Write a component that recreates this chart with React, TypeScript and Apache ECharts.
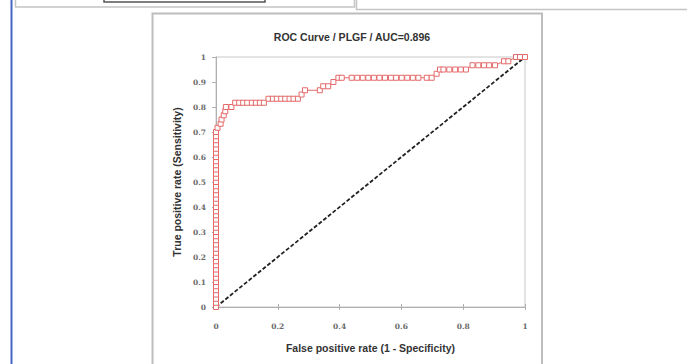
import React, { useEffect, useRef } from "react";
import * as echarts from "echarts";

const chartTitle = "ROC Curve / PLGF / AUC=0.896";
const xAxisTitle = "False positive rate (1 - Specificity)";
const yAxisTitle = "True positive rate (Sensitivity)";
const xTicks = [0, 0.2, 0.4, 0.6, 0.8, 1];
const yTicks = [0, 0.1, 0.2, 0.3, 0.4, 0.5, 0.6, 0.7, 0.8, 0.9, 1];

// ROC points: false positive rate (x) and true positive rate (y)
const fpr = [
  0, 0, 0, 0, 0, 0, 0, 0, 0, 0, 0, 0, 0, 0, 0, 0, 0, 0, 0, 0, 0, 0, 0, 0, 0, 0, 0, 0, 0, 0, 0, 0, 0, 0, 0, 0, 0, 0, 0, 0, 0, 0, 0,
  0.005, 0.015, 0.018, 0.025, 0.03, 0.032, 0.05,
  0.062, 0.075, 0.088, 0.101, 0.116, 0.129, 0.142, 0.155,
  0.17, 0.184, 0.197, 0.211, 0.224, 0.238, 0.251, 0.265,
  0.277, 0.288, 0.336, 0.347, 0.363, 0.38,
  0.396, 0.407, 0.439, 0.457, 0.475, 0.493, 0.511, 0.529, 0.547, 0.566, 0.583, 0.601, 0.619, 0.637, 0.655, 0.682, 0.698,
  0.714, 0.725, 0.736, 0.755, 0.774, 0.792, 0.809,
  0.83, 0.849, 0.867, 0.884, 0.903,
  0.932, 0.946, 0.971, 0.984, 1,
];
const tpr = [
  0, 0.017, 0.033, 0.05, 0.067, 0.083, 0.1, 0.117, 0.133, 0.15, 0.167, 0.183, 0.2, 0.217, 0.233, 0.25, 0.267, 0.283, 0.3, 0.317,
  0.333, 0.35, 0.367, 0.383, 0.4, 0.417, 0.433, 0.45, 0.467, 0.483, 0.5, 0.517, 0.533, 0.55, 0.567, 0.583, 0.6, 0.617, 0.633,
  0.65, 0.667, 0.683, 0.7,
  0.717, 0.733, 0.75, 0.767, 0.783, 0.8, 0.8,
  0.817, 0.817, 0.817, 0.817, 0.817, 0.817, 0.817, 0.817,
  0.833, 0.833, 0.833, 0.833, 0.833, 0.833, 0.833, 0.833,
  0.85, 0.867, 0.867, 0.883, 0.883, 0.9,
  0.917, 0.917, 0.917, 0.917, 0.917, 0.917, 0.917, 0.917, 0.917, 0.917, 0.917, 0.917, 0.917, 0.917, 0.917, 0.917, 0.917,
  0.933, 0.95, 0.95, 0.95, 0.95, 0.95, 0.95,
  0.967, 0.967, 0.967, 0.967, 0.967,
  0.983, 0.983, 1, 1, 1,
];
const diagX = [0, 1];
const diagY = [0, 1];

export default function App() {
  const ref = useRef<HTMLDivElement>(null);
  useEffect(() => {
    if (!ref.current) return;
    const chart = echarts.init(ref.current, null, { renderer: "svg" });
    const rocData = fpr.map((x, i) => [x, tpr[i]]);
    const diagData = diagX.map((x, i) => [x, diagY[i]]);
    const labelStyle = {
      color: "#6a6a6a",
      fontSize: 7.5,
      fontFamily: "DejaVu Serif",
      fontWeight: "bold" as const,
    };
    chart.setOption({
      animation: false,
      backgroundColor: "#fff",
      title: {
        text: chartTitle,
        left: 347,
        top: 26,
        textAlign: "center",
        textStyle: {
          fontSize: 10.5,
          fontWeight: "bold",
          color: "#333",
          fontFamily: "Liberation Sans",
        },
      },
      graphic: [
        { type: "line", shape: { x1: 11.5, y1: 0, x2: 11.5, y2: 364 }, style: { stroke: "#4466c4", lineWidth: 2 } },
        { type: "rect", shape: { x: 15.5, y: -10, width: 339, height: 17 }, style: { fill: "none", stroke: "#c4c4c4", lineWidth: 1.5 } },
        { type: "rect", shape: { x: 104, y: -6, width: 161, height: 8 }, style: { fill: "none", stroke: "#555", lineWidth: 1.5 } },
        { type: "rect", shape: { x: 356.5, y: -10, width: 340, height: 19.5 }, style: { fill: "none", stroke: "#c4c4c4", lineWidth: 1.5 } },
        { type: "rect", shape: { x: 152.5, y: 13.5, width: 389.5, height: 370 }, style: { fill: "none", stroke: "#bdbdbd", lineWidth: 2 } },
      ],
      grid: {
        left: 216,
        top: 57,
        width: 309,
        height: 250,
        show: true,
        borderColor: "#c8c8c8",
        borderWidth: 1,
        backgroundColor: "transparent",
      },
      xAxis: [
        {
          type: "value",
          min: 0,
          max: 1,
          interval: 0.2,
          name: xAxisTitle,
          nameLocation: "middle",
          nameGap: 35,
          nameTextStyle: { fontSize: 10.5, fontWeight: "bold", color: "#333", fontFamily: "Liberation Sans" },
          axisLine: { lineStyle: { color: "#b0b0b0", width: 1 } },
          axisTick: { length: 3, lineStyle: { color: "#b0b0b0" } },
          axisLabel: { ...labelStyle, margin: 15, formatter: (v: number) => (xTicks.includes(v) ? String(v) : "") },
          splitLine: { show: false },
        },
        {
          type: "value",
          min: 0,
          max: 1,
          interval: 0.2,
          position: "bottom",
          axisLine: { show: false },
          axisTick: { inside: true, length: 3, lineStyle: { color: "#b0b0b0" } },
          axisLabel: { show: false },
          splitLine: { show: false },
        },
      ],
      yAxis: {
        type: "value",
        min: 0,
        max: 1,
        interval: 0.1,
        name: yAxisTitle,
        nameLocation: "middle",
        nameGap: 34,
        nameTextStyle: { fontSize: 10.5, fontWeight: "bold", color: "#333", fontFamily: "Liberation Sans" },
        axisLine: { show: true, lineStyle: { color: "#b0b0b0", width: 1 } },
        axisTick: { show: true, length: 4, lineStyle: { color: "#b0b0b0" } },
        axisLabel: {
          ...labelStyle,
          margin: 10,
          formatter: (v: number) => {
            const r = Math.round(v * 10) / 10;
            return yTicks.includes(r) ? String(r) : "";
          },
        },
        splitLine: { show: false },
      },
      series: [
        {
          type: "line",
          data: diagData,
          symbol: "none",
          lineStyle: { color: "#222", width: 1.8, type: [4, 2] },
          z: 2,
        },
        {
          type: "line",
          data: rocData,
          symbol: "rect",
          symbolSize: 5,
          lineStyle: { color: "#e46a6a", width: 1 },
          itemStyle: { color: "#fff", borderColor: "#e46a6a", borderWidth: 1 },
          z: 3,
        },
      ],
    });
    return () => chart.dispose();
  }, []);
  return (
    <div
      ref={ref}
      style={{ position: "fixed", left: 0, top: 0, width: 687, height: 364 }}
    />
  );
}
